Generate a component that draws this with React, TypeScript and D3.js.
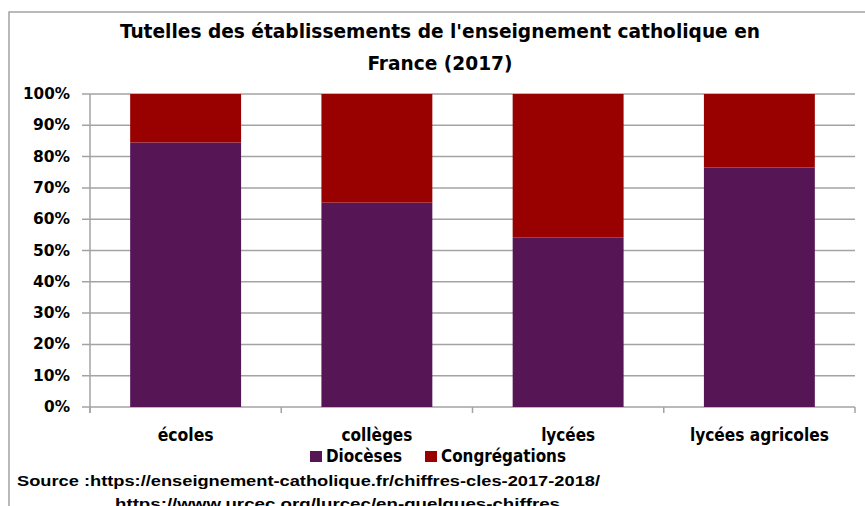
import * as d3 from "d3";
import React, { useEffect, useRef } from "react";

const categories = ["écoles", "collèges", "lycées", "lycées agricoles"];
const dioceses = [84.5, 65.3, 54.2, 76.5];
const congregations = [15.5, 34.7, 45.8, 23.5];
const yTicks = [0, 10, 20, 30, 40, 50, 60, 70, 80, 90, 100];
const seriesNames = ["Diocèses", "Congrégations"];
const colors = ["#561656", "#990000"];

const W = 865;
const H = 506;
const narrow = "'Liberation Sans Narrow', 'Arial Narrow', 'DejaVu Sans Condensed', sans-serif";
const grid = "#a3a3a3";

export default function App() {
    const ref = useRef<SVGSVGElement>(null);

    useEffect(() => {
        const svg = d3.select(ref.current);
        svg.selectAll("*").remove();

        const x = d3.scaleBand().domain(categories).range([90, 855]).paddingInner(0.42).paddingOuter(0.21);
        const y = d3.scaleLinear().domain([0, 100]).range([407, 94]);

        // frame
        svg.append("rect")
            .attr("x", 9).attr("y", 12).attr("width", 900).attr("height", 600)
            .attr("fill", "#fff").attr("stroke", grid).attr("stroke-width", 1.5);

        // title
        const title = svg.append("g")
            .attr("font-family", narrow).attr("font-weight", "bold")
            .attr("font-size", 20).attr("fill", "#000").attr("text-anchor", "middle");
        title.append("text").attr("x", 440).attr("y", 38)
            .attr("textLength", 640).attr("lengthAdjust", "spacingAndGlyphs")
            .text("Tutelles des établissements de l'enseignement catholique en");
        title.append("text").attr("x", 440).attr("y", 70)
            .attr("textLength", 145).attr("lengthAdjust", "spacingAndGlyphs")
            .text("France (2017)");

        // gridlines
        svg.append("g").selectAll("line").data(yTicks).join("line")
            .attr("x1", 82).attr("x2", 855)
            .attr("y1", (d) => y(d)).attr("y2", (d) => y(d))
            .attr("stroke", grid).attr("stroke-width", 1.5);

        // y axis line
        svg.append("line").attr("x1", 90).attr("x2", 90).attr("y1", 94).attr("y2", 413)
            .attr("stroke", grid).attr("stroke-width", 1.5);

        // x ticks at band boundaries
        const bounds = d3.range(categories.length + 1).map((i) => 90 + i * x.step());
        svg.append("g").selectAll("line").data(bounds).join("line")
            .attr("x1", (d) => d).attr("x2", (d) => d).attr("y1", 407).attr("y2", 413)
            .attr("stroke", grid).attr("stroke-width", 1.5);

        // y labels
        svg.append("g").selectAll("text").data(yTicks).join("text")
            .attr("x", 70).attr("y", (d) => y(d) + 5)
            .attr("text-anchor", "end")
            .attr("font-family", narrow).attr("font-weight", "bold").attr("font-size", 16)
            .attr("textLength", (d) => (d === 100 ? 47 : d === 0 ? 26 : 37))
            .attr("lengthAdjust", "spacingAndGlyphs")
            .text((d) => d + "%");

        // stacked bars
        const rows = categories.map((c, i) => ({ cat: c, d: dioceses[i], c2: congregations[i] }));
        const stack = d3.stack<any>().keys(["d", "c2"])(rows);
        svg.append("g").selectAll("g").data(stack).join("g")
            .attr("fill", (_, i) => colors[i])
            .selectAll("rect").data((s) => s).join("rect")
            .attr("x", (d: any) => x(d.data.cat)!)
            .attr("width", x.bandwidth())
            .attr("y", (d: any) => y(d[1]))
            .attr("height", (d: any) => y(d[0]) - y(d[1]));

        // x labels
        const xLabelWidths = [56, 71, 54, 139];
        svg.append("g").selectAll("text").data(categories).join("text")
            .attr("x", (d) => x(d)! + x.bandwidth() / 2)
            .attr("y", 441)
            .attr("text-anchor", "middle")
            .attr("font-family", narrow).attr("font-weight", "bold").attr("font-size", 17)
            .attr("textLength", (_, i) => xLabelWidths[i])
            .attr("lengthAdjust", "spacingAndGlyphs")
            .text((d) => d);

        // legend
        const legend = svg.append("g");
        const legendX = [310, 425];
        const legendW = [76, 125];
        seriesNames.forEach((name, i) => {
            legend.append("rect").attr("x", legendX[i]).attr("y", 451)
                .attr("width", 12).attr("height", 11).attr("fill", colors[i]);
            legend.append("text").attr("x", legendX[i] + 16).attr("y", 462)
                .attr("font-family", narrow).attr("font-weight", "bold").attr("font-size", 17)
                .attr("textLength", legendW[i]).attr("lengthAdjust", "spacingAndGlyphs")
                .text(name);
        });

        // source
        const src = svg.append("g")
            .attr("font-family", "'Liberation Sans', Arial, sans-serif")
            .attr("font-weight", "bold").attr("font-size", 15).attr("fill", "#000");
        src.append("text").attr("x", 17).attr("y", 486)
            .attr("textLength", 583).attr("lengthAdjust", "spacingAndGlyphs")
            .text("Source :https://enseignement-catholique.fr/chiffres-cles-2017-2018/");
        src.append("text").attr("x", 115).attr("y", 509)
            .attr("textLength", 445).attr("lengthAdjust", "spacingAndGlyphs")
            .text("https://www.urcec.org/lurcec/en-quelques-chiffres");
    }, []);

    return (
        <svg
            ref={ref}
            width={W}
            height={H}
            style={{ position: "absolute", left: 0, top: 0, background: "#fff" }}
        />
    );
}
